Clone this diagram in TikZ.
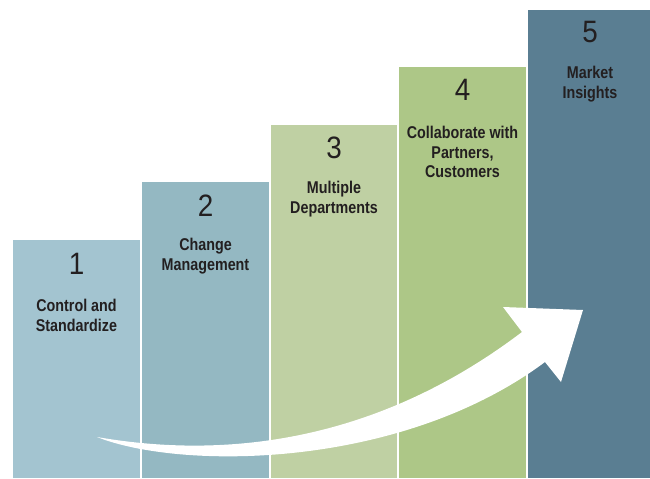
\documentclass[tikz,border=0pt]{standalone}
\usepackage{fontspec}
\setmainfont[FakeStretch=0.84]{Liberation Sans}
\newfontfamily\numfont[FakeStretch=0.9]{Liberation Sans}
\usetikzlibrary{positioning}

\definecolor{barA}{HTML}{A3C4D0}
\definecolor{barB}{HTML}{94B8C2}
\definecolor{barC}{HTML}{BFD0A3}
\definecolor{barD}{HTML}{ADC787}
\definecolor{barE}{HTML}{5A7E92}
\definecolor{ink}{HTML}{231F20}

\begin{document}
\begin{tikzpicture}[x=0.02cm, y=-0.02cm]

	\tikzstyle{num}=[text=ink, font=\numfont\fontsize{17.6}{20}\selectfont, inner sep=0];
	\tikzstyle{lbl}=[text=ink, align=center, inner sep=0, font=\fontsize{9.7}{11.3}\selectfont\bfseries];
	\tikzstyle{swoosh}=[fill=white, draw=none];

	\useasboundingbox (0,0) rectangle (650,478);

	% bars
	\fill [barA] (13,240) rectangle (140,478);
	\fill [barB] (142,182) rectangle (269,478);
	\fill [barC] (271,125) rectangle (397,478);
	\fill [barD] (399,67) rectangle (526,478);
	\fill [barE] (528,10) rectangle (650,478);

	% arrow
	\fill [swoosh] (97,437) .. controls (200,455) and (360,455) .. (522,332)
		-- (503,307) -- (583,310) -- (561,382) -- (545,362)
		.. controls (400,470) and (180,470) .. (97,437) -- cycle;

	\node [num] (n1) at (76.5,264){1};
	\node [lbl] (t1) at (76.5,315){Control and\\Standardize};

	\node [num] (n2) at (205.5,206){2};
	\node [lbl] (t2) at (205.5,256){Change\\Management};

	\node [num] (n3) at (334,148){3};
	\node [lbl] (t3) at (334,199){Multiple\\Departments};

	\node [num] (n4) at (462.5,90){4};
	\node [lbl] (t4) at (462.5,152){Collaborate with\\Partners,\\Customers};

	\node [num] (n5) at (590,32){5};
	\node [lbl] (t5) at (590,84){Market\\Insights};

\end{tikzpicture}
\end{document}
